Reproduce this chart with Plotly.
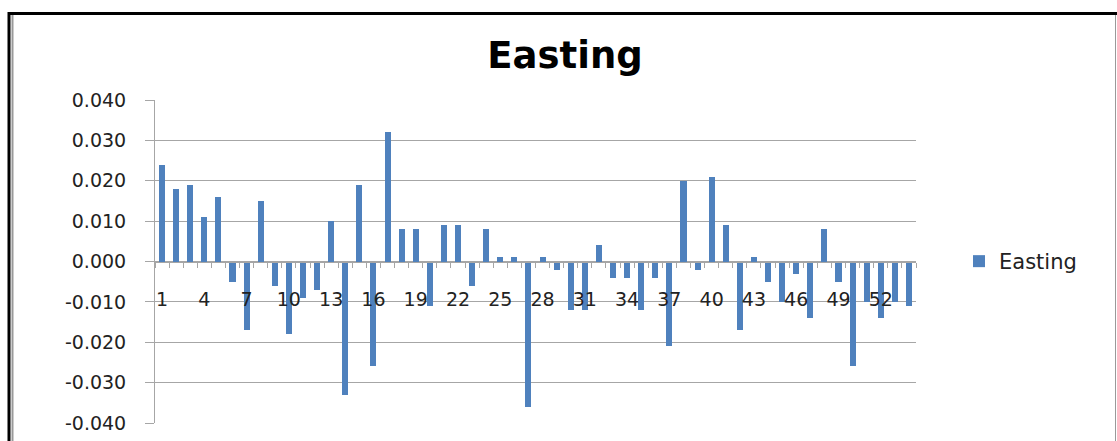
import plotly.graph_objects as go

# ---- data ----
points = list(range(1, 55))
easting = [
    0.024, 0.018, 0.019, 0.011, 0.016, -0.005, -0.017, 0.015, -0.006, -0.018,
    -0.009, -0.007, 0.010, -0.033, 0.019, -0.026, 0.032, 0.008, 0.008, -0.011,
    0.009, 0.009, -0.006, 0.008, 0.001, 0.001, -0.036, 0.001, -0.002, -0.012,
    -0.012, 0.004, -0.004, -0.004, -0.012, -0.004, -0.021, 0.020, -0.002, 0.021,
    0.009, -0.017, 0.001, -0.005, -0.010, -0.003, -0.014, 0.008, -0.005, -0.026,
    -0.010, -0.014, -0.010, -0.011,
]
y_tickvals = [0.04, 0.03, 0.02, 0.01, 0.0, -0.01, -0.02, -0.03, -0.04]
y_ticktext = ["0.040", "0.030", "0.020", "0.010", "0.000", "-0.010", "-0.020", "-0.030", "-0.040"]
x_label_vals = list(range(1, 55, 3))
x_label_text = [str(v) for v in x_label_vals]

W, H = 1117, 441
L, R, T, B = 155, 916, 100, 423  # plot area in pixels

def px(x):
    return (x - L) / (R - L)

def py(y):
    return (B - y) / (B - T)

BLUE = "#4f81bd"
GRID = "#a6a6a6"
FONT = "DejaVu Sans"

fig = go.Figure()
fig.add_trace(go.Bar(
    x=points, y=easting, name="Easting", marker=dict(color=BLUE, line=dict(width=0)),
    width=0.43, showlegend=True,
))
# invisible trace on secondary axis for category labels
fig.add_trace(go.Scatter(x=[points[0]], y=[0], xaxis="x2", mode="markers",
                         marker=dict(opacity=0), showlegend=False, hoverinfo="skip"))

boundaries = [i + 0.5 for i in range(0, 55)]
fig.update_layout(
    width=W, height=H,
    margin=dict(l=L, r=W - R, t=T, b=H - B, pad=0, autoexpand=False),
    paper_bgcolor="white", plot_bgcolor="white",
    title=dict(text="<b>Easting</b>", x=565 / W, xanchor="center", y=1 - 55 / H, yanchor="middle",
               font=dict(family="DejaVu Sans", size=37, color="black")),
    bargap=0,
    yaxis=dict(range=[-0.04, 0.04], domain=[0, 1], tickvals=y_tickvals, ticktext=y_ticktext,
               showgrid=True, gridcolor=GRID, gridwidth=1, zeroline=False, automargin=False,
               showline=True, linecolor=GRID, linewidth=1,
               ticks="outside", ticklen=9, tickcolor=GRID, ticklabelstandoff=15,
               tickfont=dict(family=FONT, size=19, color="#222")),
    xaxis=dict(range=[0.5, 54.5], tickvals=boundaries, ticktext=[""] * len(boundaries),
               anchor="free", position=0.5, showgrid=False, zeroline=False, automargin=False,
               showline=True, linecolor=GRID, linewidth=1,
               ticks="outside", ticklen=5, tickcolor=GRID),
    xaxis2=dict(range=[0.5, 54.5], overlaying="x", anchor="free", position=0.5, side="bottom",
                tickvals=x_label_vals, ticktext=x_label_text, showgrid=False, zeroline=False,
                showline=False, ticks="outside", ticklen=21, tickcolor="rgba(0,0,0,0)", automargin=False,
                tickfont=dict(family=FONT, size=19, color="#222")),
    legend=dict(x=px(959), xanchor="left", y=0.5, yanchor="middle",
                font=dict(family=FONT, size=21, color="#222"), bgcolor="rgba(0,0,0,0)"),
    shapes=[
        # outer frame
        dict(type="line", xref="paper", yref="paper", x0=px(8), x1=px(1117), y0=py(13.5), y1=py(13.5),
             line=dict(color="black", width=3)),
        dict(type="line", xref="paper", yref="paper", x0=px(9), x1=px(9), y0=py(12), y1=py(441),
             line=dict(color="black", width=3)),
        dict(type="line", xref="paper", yref="paper", x0=px(12.5), x1=px(12.5), y0=py(15), y1=py(441),
             line=dict(color="#999999", width=2)),
        dict(type="line", xref="paper", yref="paper", x0=px(1115.5), x1=px(1115.5), y0=py(15), y1=py(441),
             line=dict(color="#999999", width=1)),
    ],
)

fig.write_html("out.html")
